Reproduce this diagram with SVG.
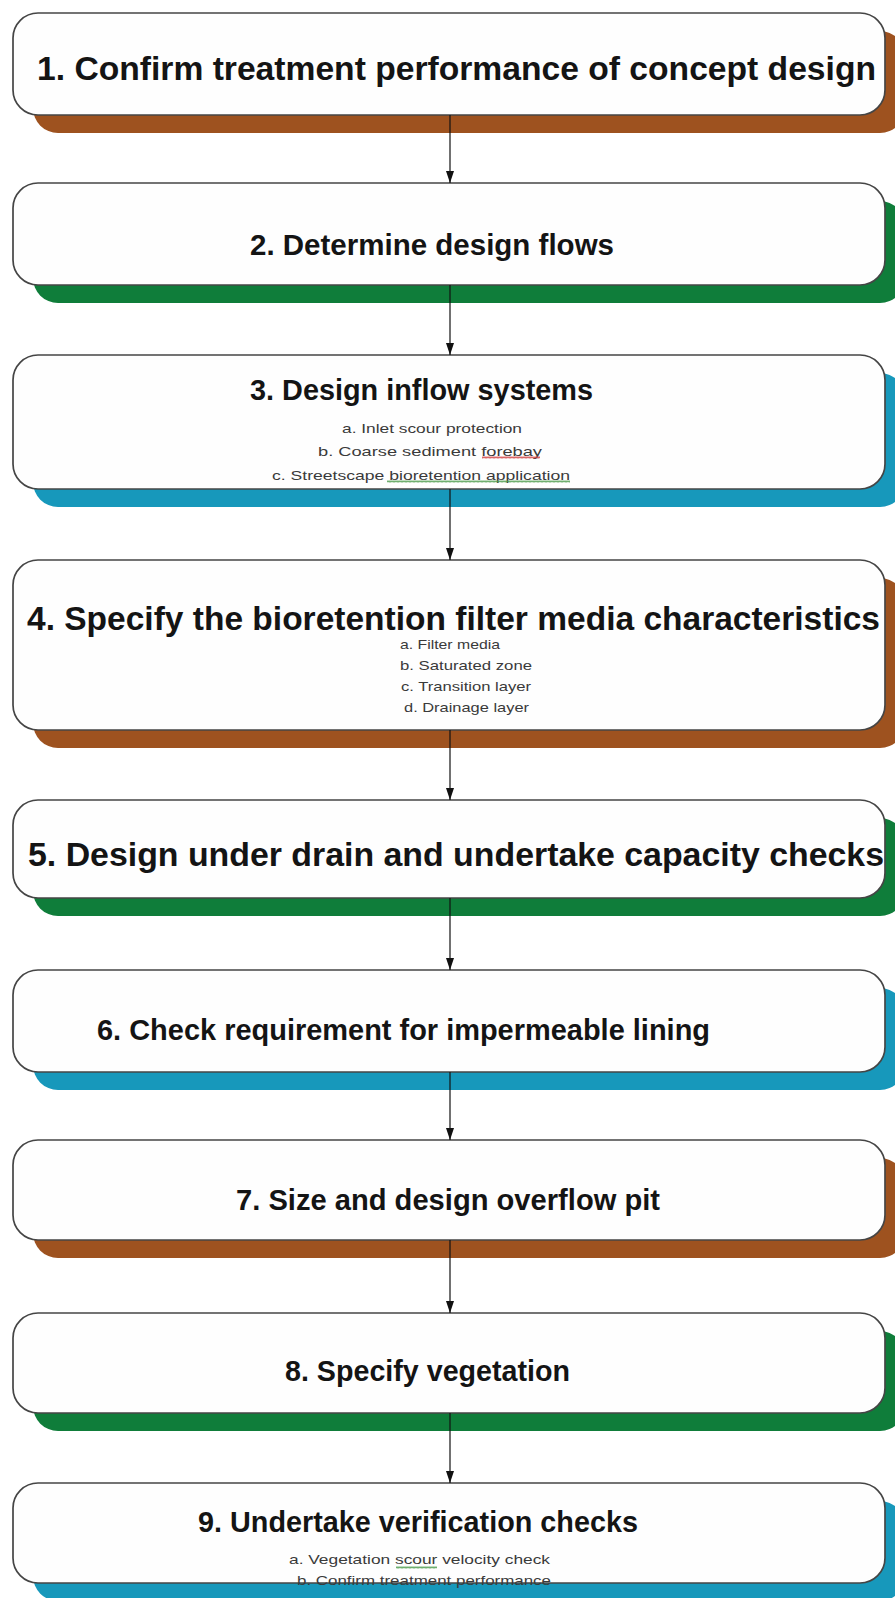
<svg xmlns="http://www.w3.org/2000/svg" width="895" height="1598" viewBox="0 0 895 1598">
  <defs>
    <marker id="arrow" viewBox="0 0 12 8" markerWidth="12" markerHeight="8" refX="12" refY="4" orient="auto" markerUnits="userSpaceOnUse">
      <path d="M0,0 L12,4 L0,8 Z" fill="#111"/>
    </marker>
    <pattern id="wave-red" x="0" y="0" width="4" height="3" patternUnits="userSpaceOnUse">
      <polyline points="0,2.5 1,0.5 2,2.5 3,0.5 4,2.5" fill="none" stroke="#d04040" stroke-width="0.8"/>
    </pattern>
    <pattern id="wave-green" x="0" y="0" width="4" height="3" patternUnits="userSpaceOnUse">
      <polyline points="0,2.5 1,0.5 2,2.5 3,0.5 4,2.5" fill="none" stroke="#4a9a4a" stroke-width="0.8"/>
    </pattern>
  </defs>
  <style>
    .box { fill: #fefefe; stroke: #454545; stroke-width: 1.7; }
    .sh-brown { fill: #9e521f; }
    .sh-green { fill: #0f7d3a; }
    .sh-blue { fill: #1798bb; }
    .big { font-family: "Liberation Sans", Arial, sans-serif; font-weight: bold; font-size: 34px; fill: #141414; }
    .mid { font-family: "Liberation Sans", Arial, sans-serif; font-weight: bold; font-size: 29px; fill: #141414; }
    .sub { font-family: "Liberation Sans", Arial, sans-serif; font-size: 13px; fill: #3a3a3a; }
    .link { stroke: #111; stroke-width: 1.2; fill: none; }
  </style>
  <rect width="895" height="1598" fill="#ffffff"/>

  <g id="step1">
    <rect class="sh-brown" x="33" y="31" width="872" height="102" rx="25"/>
    <rect class="box" x="13" y="13" width="872" height="102" rx="25"/>
    <text class="big" x="37" y="80" textLength="839" lengthAdjust="spacingAndGlyphs">1. Confirm treatment performance of concept design</text>
  </g>

  <g id="step2">
    <rect class="sh-green" x="33" y="201" width="872" height="102" rx="25"/>
    <rect class="box" x="13" y="183" width="872" height="102" rx="25"/>
    <text class="mid" x="250" y="255" textLength="364" lengthAdjust="spacingAndGlyphs">2. Determine design flows</text>
  </g>

  <g id="step3">
    <rect class="sh-blue" x="33" y="373" width="872" height="134" rx="25"/>
    <rect class="box" x="13" y="355" width="872" height="134" rx="25"/>
    <text class="mid" x="250" y="400" textLength="343" lengthAdjust="spacingAndGlyphs">3. Design inflow systems</text>
    <text class="sub" x="342" y="433" textLength="180" lengthAdjust="spacingAndGlyphs">a. Inlet scour protection</text>
    <text class="sub" x="318" y="456" textLength="224" lengthAdjust="spacingAndGlyphs">b. Coarse sediment forebay</text>
    <text class="sub" x="272" y="480" textLength="298" lengthAdjust="spacingAndGlyphs">c. Streetscape bioretention application</text>
    <rect x="482" y="456" width="58" height="3" fill="url(#wave-red)"/>
    <rect x="387" y="480" width="183" height="3" fill="url(#wave-green)"/>
  </g>

  <g id="step4">
    <rect class="sh-brown" x="33" y="578" width="872" height="170" rx="25"/>
    <rect class="box" x="13" y="560" width="872" height="170" rx="25"/>
    <text class="big" x="27" y="630" textLength="853" lengthAdjust="spacingAndGlyphs">4. Specify the bioretention filter media characteristics</text>
    <text class="sub" x="400" y="649" textLength="100" lengthAdjust="spacingAndGlyphs">a. Filter media</text>
    <text class="sub" x="400" y="670" textLength="132" lengthAdjust="spacingAndGlyphs">b. Saturated zone</text>
    <text class="sub" x="401" y="691" textLength="130" lengthAdjust="spacingAndGlyphs">c. Transition layer</text>
    <text class="sub" x="404" y="712" textLength="125" lengthAdjust="spacingAndGlyphs">d. Drainage layer</text>
  </g>

  <g id="step5">
    <rect class="sh-green" x="33" y="818" width="872" height="98" rx="25"/>
    <rect class="box" x="13" y="800" width="872" height="98" rx="25"/>
    <text class="big" x="28" y="866" textLength="856" lengthAdjust="spacingAndGlyphs">5. Design under drain and undertake capacity checks</text>
  </g>

  <g id="step6">
    <rect class="sh-blue" x="33" y="988" width="872" height="102" rx="25"/>
    <rect class="box" x="13" y="970" width="872" height="102" rx="25"/>
    <text class="mid" x="97" y="1040" textLength="613" lengthAdjust="spacingAndGlyphs">6. Check requirement for impermeable lining</text>
  </g>

  <g id="step7">
    <rect class="sh-brown" x="33" y="1158" width="872" height="100" rx="25"/>
    <rect class="box" x="13" y="1140" width="872" height="100" rx="25"/>
    <text class="mid" x="236" y="1210" textLength="424" lengthAdjust="spacingAndGlyphs">7. Size and design overflow pit</text>
  </g>

  <g id="step8">
    <rect class="sh-green" x="33" y="1331" width="872" height="100" rx="25"/>
    <rect class="box" x="13" y="1313" width="872" height="100" rx="25"/>
    <text class="mid" x="285" y="1381" textLength="285" lengthAdjust="spacingAndGlyphs">8. Specify vegetation</text>
  </g>

  <g id="step9">
    <rect class="sh-blue" x="33" y="1501" width="872" height="100" rx="25"/>
    <rect class="box" x="13" y="1483" width="872" height="100" rx="25"/>
    <text class="mid" x="198" y="1532" textLength="440" lengthAdjust="spacingAndGlyphs">9. Undertake verification checks</text>
    <text class="sub" x="289" y="1564" textLength="261" lengthAdjust="spacingAndGlyphs">a. Vegetation scour velocity check</text>
    <text class="sub" x="297" y="1585" textLength="254" lengthAdjust="spacingAndGlyphs">b. Confirm treatment performance</text>
    <rect x="396" y="1566" width="41" height="3" fill="url(#wave-green)"/>
  </g>

  <g id="connectors">
    <line class="link" x1="450" y1="115" x2="450" y2="183" marker-end="url(#arrow)"/>
    <line class="link" x1="450" y1="285" x2="450" y2="355" marker-end="url(#arrow)"/>
    <line class="link" x1="450" y1="489" x2="450" y2="560" marker-end="url(#arrow)"/>
    <line class="link" x1="450" y1="730" x2="450" y2="800" marker-end="url(#arrow)"/>
    <line class="link" x1="450" y1="898" x2="450" y2="970" marker-end="url(#arrow)"/>
    <line class="link" x1="450" y1="1072" x2="450" y2="1140" marker-end="url(#arrow)"/>
    <line class="link" x1="450" y1="1240" x2="450" y2="1313" marker-end="url(#arrow)"/>
    <line class="link" x1="450" y1="1413" x2="450" y2="1483" marker-end="url(#arrow)"/>
  </g>
</svg>
